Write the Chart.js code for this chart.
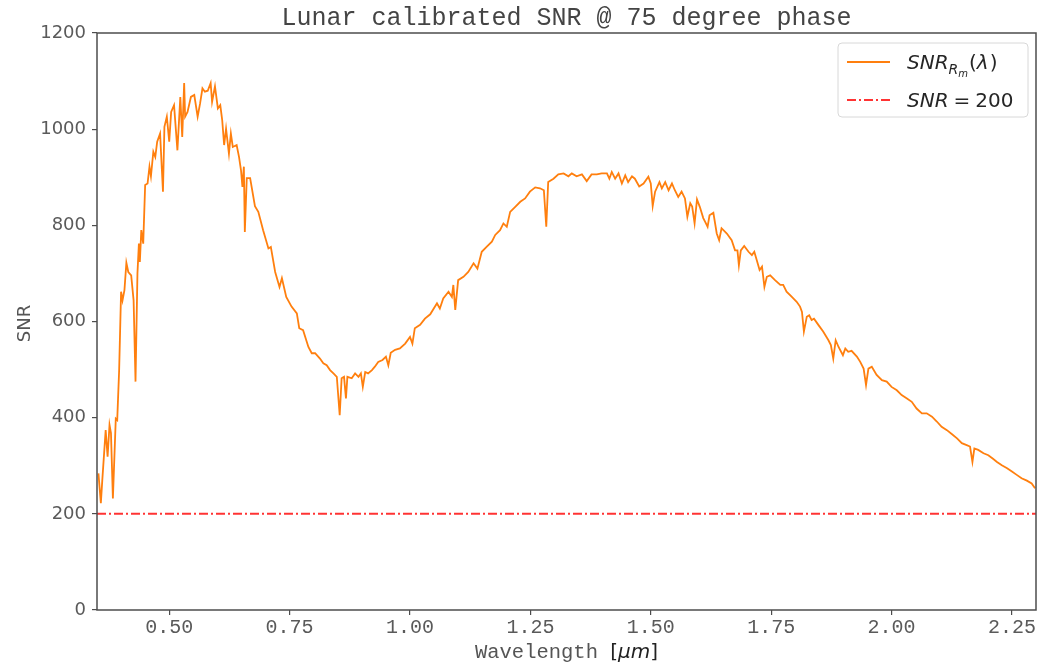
<!DOCTYPE html>
<html>
<head>
<meta charset="utf-8">
<script src="https://cdn.jsdelivr.net/npm/chart.js@4.4.1/dist/chart.umd.min.js"></script>
<style>
  html, body { margin: 0; padding: 0; background: #ffffff; }
  #c { display: block; }
</style>
</head>
<body>
<canvas id="c" width="1060" height="667"></canvas>
<script>
// ---- Data ----
const wavelength = [
  0.353,0.358,0.361,0.368,0.372,0.376,0.379,0.383,0.389,0.392,0.396,0.400,0.403,0.407,0.411,0.415,0.421,0.426,0.430,0.434,
  0.437,0.439,0.442,0.446,0.450,0.455,0.459,0.462,0.467,0.471,0.475,0.481,0.487,0.490,0.495,0.500,0.504,0.510,0.517,0.523,
  0.527,0.531,0.533,0.538,0.545,0.552,0.559,0.564,0.569,0.574,0.580,0.586,0.589,0.595,0.601,0.606,0.610,0.614,0.618,0.624,
  0.628,0.632,0.640,0.645,0.649,0.652,0.655,0.657,0.661,0.668,0.678,
  0.685,0.695,0.706,0.711,0.720,0.729,0.734,0.743,0.754,0.765,0.770,0.778,0.789,0.796,0.803,0.813,0.820,0.827,0.834,0.841,
  0.848,0.854,0.858,0.863,0.867,0.870,0.879,0.886,0.893,0.898,0.902,0.907,0.913,0.921,0.927,0.934,0.943,0.950,0.955,0.960,
  0.969,0.979,0.990,1.000,1.005,1.010,1.021,1.031,1.042,
  1.056,1.062,1.069,1.080,1.087,1.090,1.094,1.100,1.111,1.121,1.132,1.140,1.149,1.159,1.170,1.177,1.187,1.194,1.201,1.208,
  1.218,1.229,1.239,1.249,1.260,1.270,1.278,1.283,1.287,1.298,1.308,1.319,1.329,1.336,1.346,1.357,1.367,1.377,1.388,1.398,
  1.409,1.414,1.419,1.426,1.433,1.440,1.447,1.453,1.461,1.467,1.476,1.485,1.495,1.500,1.504,1.509,1.518,1.523,1.530,1.537,
  1.544,1.550,1.557,1.564,1.571,1.576,1.582,1.586,1.591,1.596,1.602,
  1.609,1.613,1.618,1.622,1.630,1.637,1.642,1.647,1.658,1.668,1.675,1.680,1.683,1.687,1.694,1.703,1.710,1.715,1.720,1.726,
  1.731,1.736,1.741,1.748,1.758,1.769,1.775,1.782,1.793,1.803,1.810,1.814,1.818,1.824,1.829,1.834,1.839,1.848,1.858,1.869,
  1.874,1.879,1.884,1.890,1.899,1.904,1.910,1.917,1.928,1.935,1.942,1.947,1.952,1.959,1.969,1.980,1.990,2.000,2.011,2.021,
  2.032,2.042,2.052,2.063,2.073,2.084,2.094,2.104,2.115,2.125,2.136,2.146,2.156,2.163,2.168,2.172,2.180,2.191,2.201,2.210,
  2.219,2.229,2.240,2.250,2.260,2.270,2.281,2.291,2.298
];
const snr = [
  284,222,270,374,319,385,368,232,398,395,499,662,644,665,722,703,696,644,475,700,
  762,724,790,762,884,887,922,902,953,942,974,991,870,1005,1026,974,1036,1050,956,1067,
  984,1096,1026,1036,1067,1071,1026,1053,1085,1078,1080,1096,1057,1089,1043,1050,1019,967,1001,949,
  991,963,967,942,915,880,922,786,898,898,840,
  828,790,752,755,703,672,690,651,631,617,586,582,547,534,534,523,513,509,499,492,
  485,405,482,485,440,485,482,492,485,492,464,495,492,499,506,516,520,527,509,535,
  541,544,554,568,554,586,593,606,615,
  638,627,648,662,651,676,624,686,693,703,721,710,745,755,766,780,790,804,797,828,
  838,849,856,870,879,877,873,797,890,897,906,908,902,908,902,906,892,906,906,908,
  908,897,911,897,908,887,904,890,902,897,881,887,901,887,840,870,890,877,890,873,
  887,873,859,870,856,818,846,839,804,854,838,
  815,807,797,821,826,783,769,794,783,769,748,748,717,748,757,745,738,745,728,707,
  714,672,693,696,686,676,676,662,651,641,631,620,579,610,613,603,606,593,579,561,
  551,523,561,547,530,544,537,539,527,516,502,468,502,506,489,478,475,464,457,447,
  440,433,419,409,409,402,392,381,374,366,357,347,343,340,308,336,333,326,322,315,
  308,301,295,288,281,274,269,263,253
];
const threshold = 200;
const xRange = [0.35, 2.30];
const yRange = [0, 1200];
const xTickValues = [0.50, 0.75, 1.00, 1.25, 1.50, 1.75, 2.00, 2.25];
const yTickValues = [0, 200, 400, 600, 800, 1000, 1200];
const titleText = "Lunar calibrated SNR @ 75 degree phase";
const xLabelText = "Wavelength";
const yLabelText = "SNR";

// ---- Styles ----
const ORANGE = '#ff7f0e';
const RED = 'rgba(255,0,0,0.8)';
const RED_DASH = [9, 3, 2, 3];
const SPINE = '#4d4d4d';
const TICKTXT = '#5a5a5a';
const MONO = '"Liberation Mono", "Courier New", monospace';
const SANS = '"DejaVu Sans", sans-serif';

const curveData = wavelength.map((w, i) => ({ x: w, y: snr[i] }));
const thresholdData = xRange.map(w => ({ x: w, y: threshold }));

const decor = {
  id: 'decor',
  afterDraw(chart) {
    const ctx = chart.ctx;
    const a = chart.chartArea;
    ctx.save();
    // spines
    ctx.strokeStyle = SPINE;
    ctx.lineWidth = 1.5;
    ctx.strokeRect(a.left, a.top, a.right - a.left, a.bottom - a.top);

    // title
    ctx.fillStyle = '#444444';
    ctx.font = '25px ' + MONO;
    ctx.textAlign = 'center';
    ctx.textBaseline = 'alphabetic';
    ctx.fillText(titleText, (a.left + a.right) / 2, 25);

    // x label: "Wavelength [µm]"
    ctx.textAlign = 'left';
    const monoF = '20.5px ' + MONO;
    const sansF = '20px ' + SANS;
    const itF = 'italic 20px ' + SANS;
    ctx.font = monoF; const w1 = ctx.measureText(xLabelText + ' ').width;
    ctx.font = sansF; const wb1 = ctx.measureText('[').width; const wb2 = ctx.measureText(']').width;
    ctx.font = itF; const wmu = ctx.measureText('\u03BCm').width;
    const total = w1 + wb1 + wmu + wb2;
    let x = (a.left + a.right) / 2 - total / 2;
    const yb = 658;
    ctx.fillStyle = '#555555';
    ctx.font = monoF; ctx.fillText(xLabelText + ' ', x, yb); x += w1;
    ctx.fillStyle = '#222222';
    ctx.font = sansF; ctx.fillText('[', x, yb); x += wb1;
    ctx.font = itF; ctx.fillText('\u03BCm', x, yb); x += wmu;
    ctx.font = sansF; ctx.fillText(']', x, yb);

    // y label
    ctx.save();
    ctx.translate(30, (a.top + a.bottom) / 2 + 2);
    ctx.rotate(-Math.PI / 2);
    ctx.font = '18px ' + SANS;
    ctx.fillStyle = '#555555';
    ctx.textAlign = 'center';
    ctx.textBaseline = 'alphabetic';
    ctx.fillText(yLabelText, 0, 0);
    ctx.restore();

    // legend
    const lx = 838, ly = 43, lw = 190, lh = 74, r = 4;
    ctx.beginPath();
    ctx.moveTo(lx + r, ly);
    ctx.arcTo(lx + lw, ly, lx + lw, ly + lh, r);
    ctx.arcTo(lx + lw, ly + lh, lx, ly + lh, r);
    ctx.arcTo(lx, ly + lh, lx, ly, r);
    ctx.arcTo(lx, ly, lx + lw, ly, r);
    ctx.closePath();
    ctx.fillStyle = 'rgba(255,255,255,0.85)';
    ctx.fill();
    ctx.strokeStyle = '#d8d8d8';
    ctx.lineWidth = 1;
    ctx.stroke();

    ctx.lineWidth = 1.8;
    ctx.strokeStyle = ORANGE;
    ctx.beginPath(); ctx.moveTo(847, 62); ctx.lineTo(890, 62); ctx.stroke();
    ctx.strokeStyle = RED; ctx.lineWidth = 2;
    ctx.setLineDash(RED_DASH);
    ctx.beginPath(); ctx.moveTo(847, 100); ctx.lineTo(890, 100); ctx.stroke();
    ctx.setLineDash([]);

    ctx.fillStyle = '#262626';
    ctx.textAlign = 'left';
    ctx.textBaseline = 'alphabetic';
    let tx = 907;
    ctx.font = 'italic 20px ' + SANS;
    ctx.fillText('SNR', tx, 69); tx += ctx.measureText('SNR').width;
    ctx.font = 'italic 14px ' + SANS;
    ctx.fillText('R', tx, 74); tx += ctx.measureText('R').width;
    ctx.font = 'italic 10px ' + SANS;
    ctx.fillText('m', tx, 77); tx += ctx.measureText('m').width + 1;
    ctx.font = '20px ' + SANS;
    ctx.fillText('(', tx, 69); tx += ctx.measureText('(').width;
    ctx.font = 'italic 20px ' + SANS;
    ctx.fillText('\u03BB', tx, 69); tx += ctx.measureText('\u03BB').width + 1;
    ctx.font = '20px ' + SANS;
    ctx.fillText(')', tx, 69);

    tx = 907;
    ctx.font = 'italic 20px ' + SANS;
    ctx.fillText('SNR', tx, 107); tx += ctx.measureText('SNR').width + 5;
    ctx.font = '20px ' + SANS;
    ctx.fillText('=', tx, 107); tx += ctx.measureText('=').width + 5;
    ctx.fillText(String(threshold), tx, 107);

    ctx.restore();
  }
};

new Chart(document.getElementById('c'), {
  type: 'line',
  data: {
    datasets: [
      {
        label: 'SNR_Rm(λ)',
        data: curveData,
        borderColor: ORANGE,
        borderWidth: 1.8,
        pointRadius: 0,
        tension: 0,
        fill: false
      },
      {
        label: 'SNR = 200',
        data: thresholdData,
        borderColor: RED,
        borderWidth: 2,
        borderDash: RED_DASH,
        pointRadius: 0,
        fill: false
      }
    ]
  },
  options: {
    responsive: false,
    animation: false,
    devicePixelRatio: 1,
    layout: { padding: { left: 0, right: 24, top: 33, bottom: 0 } },
    plugins: {
      legend: { display: false },
      title: { display: false },
      tooltip: { enabled: false }
    },
    scales: {
      x: {
        type: 'linear',
        min: xRange[0],
        max: xRange[1],
        afterBuildTicks: (s) => { s.ticks = xTickValues.map(v => ({ value: v })); },
        afterFit: (s) => { s.height = 57; },
        border: { display: false },
        grid: { drawOnChartArea: false, drawTicks: true, tickLength: 5, color: SPINE, lineWidth: 1.2 },
        ticks: {
          color: TICKTXT,
          font: { family: MONO, size: 20 },
          padding: 1,
          maxRotation: 0,
          autoSkip: false,
          callback: (v) => Number(v).toFixed(2)
        }
      },
      y: {
        type: 'linear',
        min: yRange[0],
        max: yRange[1],
        afterBuildTicks: (s) => { s.ticks = yTickValues.map(v => ({ value: v })); },
        afterFit: (s) => { s.width = 97; },
        border: { display: false },
        grid: { drawOnChartArea: false, drawTicks: true, tickLength: 5, color: SPINE, lineWidth: 1.2 },
        ticks: {
          color: TICKTXT,
          font: { family: SANS, size: 18 },
          padding: 6,
          autoSkip: false,
          callback: (v) => String(v)
        }
      }
    }
  },
  plugins: [decor]
});
</script>
</body>
</html>
